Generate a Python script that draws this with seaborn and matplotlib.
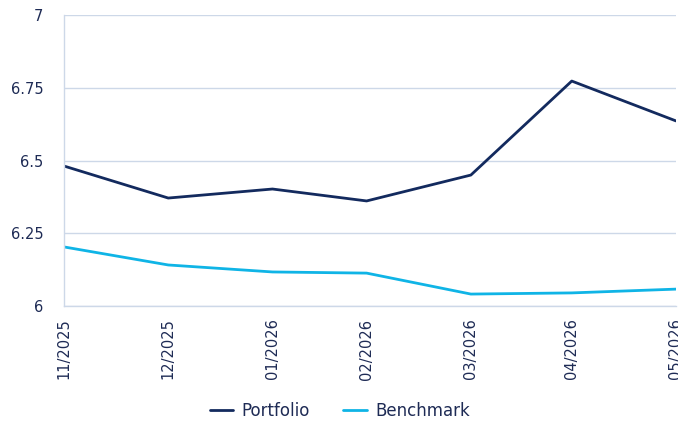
import matplotlib
matplotlib.use("Agg")
import matplotlib.pyplot as plt
import seaborn as sns
import pandas as pd

dates = ["2025-11-30", "2025-12-31", "2026-01-31", "2026-02-28", "2026-03-31", "2026-04-30", "2026-05-31"]
tick_labels = ["11/2025", "12/2025", "01/2026", "02/2026", "03/2026", "04/2026", "05/2026"]
portfolio = [6.481, 6.371, 6.402, 6.361, 6.450, 6.773, 6.636]
benchmark = [6.203, 6.141, 6.117, 6.113, 6.041, 6.045, 6.058]

df = pd.DataFrame({
    "date": pd.to_datetime(dates * 2),
    "value": portfolio + benchmark,
    "series": ["Portfolio"] * len(dates) + ["Benchmark"] * len(dates),
})

sns.set_theme(style="white")
plt.rcParams["font.family"] = ["DejaVu Sans"]

navy = "#132a5e"
cyan = "#0fb4e6"
grid = "#cdd8e8"
text = "#1e2b55"

fig = plt.figure(figsize=(6.78, 4.23), dpi=100)
ax = fig.add_axes([64 / 678, 1 - 306 / 423, 612 / 678, 291 / 423])

sns.lineplot(data=df, x="date", y="value", hue="series",
             palette={"Portfolio": navy, "Benchmark": cyan},
             linewidth=2.0, ax=ax, legend=True)

xd = pd.to_datetime(dates)
ax.set_xlim(xd[0], xd[-1])
ax.set_ylim(6, 7)
ax.set_yticks([6, 6.25, 6.5, 6.75, 7])
ax.set_yticklabels(["6", "6.25", "6.5", "6.75", "7"])
ax.set_xticks(xd)
ax.set_xticklabels(tick_labels, rotation=90)
ax.set_xlabel("")
ax.set_ylabel("")

ax.grid(axis="y", color=grid, linewidth=1)
ax.set_axisbelow(True)
for s in ["top", "right"]:
    ax.spines[s].set_visible(False)
for s in ["left", "bottom"]:
    ax.spines[s].set_color(grid)
    ax.spines[s].set_linewidth(1)

ax.tick_params(axis="x", colors=grid, length=6, width=1, labelcolor=text, labelsize=10.5, pad=3)
ax.tick_params(axis="y", length=0, labelcolor=text, labelsize=10.5, pad=15)

handles, labels = ax.get_legend_handles_labels()
ax.legend(handles, labels, loc="center", bbox_to_anchor=(340 / 678, 1 - 411 / 423),
          bbox_transform=fig.transFigure, ncol=2, frameon=False,
          fontsize=12, labelcolor=text, handlelength=1.4, columnspacing=2.0,
          handletextpad=0.5)

fig.savefig("out.png", dpi=100)
